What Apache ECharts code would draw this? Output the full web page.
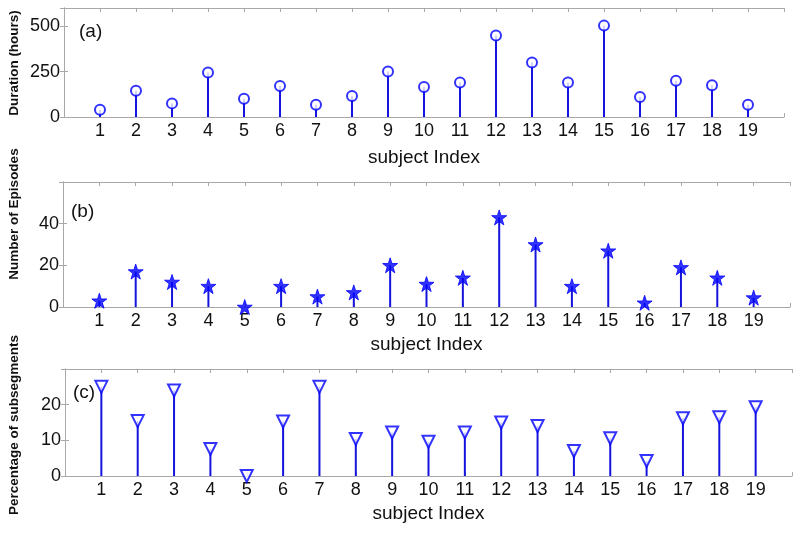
<!DOCTYPE html>
<html>
<head>
<meta charset="utf-8">
<title>subject stems</title>
<script src="https://cdn.jsdelivr.net/npm/echarts@6/dist/echarts.min.js"></script>
<style>
  html, body { margin: 0; padding: 0; background: #fff; }
  #chart { width: 800px; height: 537px; }
</style>
</head>
<body>
<div id="chart"></div>
<script>
// subject numbers on the x axis
const subjects = [1, 2, 3, 4, 5, 6, 7, 8, 9, 10, 11, 12, 13, 14, 15, 16, 17, 18, 19]

// (a) duration in hours
const durationHours = [40, 145, 75, 245, 100, 170, 68, 115, 250, 165, 190, 448, 300, 190, 503, 110, 200, 175, 68]
// (b) number of episodes
const episodes = [3, 17, 12, 10, 0, 10, 5, 7, 20, 11, 14, 43, 30, 10, 27, 2, 19, 14, 4.5]
// (c) percentage of subsegments
const percentSub = [25, 15.4, 24, 7.6, 0, 15.3, 25, 10.4, 12.2, 9.6, 12.2, 15, 14, 7, 10.6, 4.2, 16.2, 16.5, 19.3]

const panelNames = ['Duration (hours)', 'Number of Episodes', 'Percentage of subsegments']
const panelTags = ['(a)', '(b)', '(c)']
const yMax = [600, 60, 30]
const yStep = [250, 20, 10]

const BLUE = '#0000ff'
const STEM = '#1414dc'
const BOX = '#a8a8a8'
const FONT = '"Liberation Sans", Arial, sans-serif'

const starPath = 'path://M50,0 L61.8,35.3 L99,35.3 L69,57.4 L80.4,92.7 L50,70.9 L19.6,92.7 L31,57.4 L1,35.3 L38.2,35.3 Z'

const grids = [
  { left: 64, top: 8, width: 720, height: 109 },
  { left: 63, top: 182, width: 727, height: 125 },
  { left: 65, top: 369, width: 727, height: 107 }
]
const xNameGap = [31, 28, 28]

const chart = echarts.init(document.getElementById('chart'))

const xAxes = []
const yAxes = []
const series = []

grids.forEach((g, i) => {
  const xBase = {
    gridIndex: i,
    type: 'value',
    min: 0,
    max: 20,
    interval: 1,
    splitLine: { show: false },
    axisLine: { show: true, onZero: false, lineStyle: { color: BOX, width: 1 } },
    axisTick: { show: true, inside: true, length: 4, lineStyle: { color: BOX } }
  }
  xAxes.push({
    ...xBase,
    position: 'bottom',
    name: 'subject Index',
    nameLocation: 'middle',
    nameGap: xNameGap[i],
    nameTextStyle: { fontFamily: FONT, fontSize: 19, color: '#111' },
    axisLabel: {
      margin: 5,
      fontFamily: FONT,
      fontSize: 18,
      color: '#111',
      formatter: v => (v >= 1 && v <= 19 ? String(v) : '')
    }
  })
  xAxes.push({ ...xBase, position: 'top', axisLabel: { show: false } })

  const yBase = {
    gridIndex: i,
    type: 'value',
    min: 0,
    max: yMax[i],
    interval: yStep[i],
    splitLine: { show: false },
    axisLine: { show: true, lineStyle: { color: BOX, width: 1 } },
    axisTick: { show: true, inside: true, length: 4, lineStyle: { color: BOX } }
  }
  yAxes.push({
    ...yBase,
    position: 'left',
    axisLabel: {
      margin: 4,
      fontFamily: FONT,
      fontSize: 18,
      color: '#111',
      showMaxLabel: false
    }
  })
  yAxes.push({ ...yBase, position: 'right', axisLabel: { show: false } })
})

const values = [durationHours, episodes, percentSub]
const markers = [
  { symbol: 'emptyCircle', symbolSize: 10, symbolRotate: 0 },
  { symbol: starPath, symbolSize: 15, symbolRotate: 0 },
  { symbol: 'emptyTriangle', symbolSize: 12, symbolRotate: 180 }
]

values.forEach((vals, i) => {
  const pts = subjects.map((s, k) => [s, vals[k]])
  series.push({
    type: 'bar',
    xAxisIndex: i * 2,
    yAxisIndex: i * 2,
    data: pts,
    barWidth: 2,
    itemStyle: { color: STEM },
    silent: true
  })
  series.push({
    type: 'scatter',
    xAxisIndex: i * 2,
    yAxisIndex: i * 2,
    data: pts,
    symbol: markers[i].symbol,
    symbolSize: markers[i].symbolSize,
    symbolRotate: markers[i].symbolRotate,
    itemStyle: {
      color: BLUE,
      borderColor: BLUE,
      borderWidth: i === 1 ? 1 : 2.2
    },
    z: 5
  })
})

const nameCenters = [63, 214, 425]
const tagPos = [[79, 32], [71, 212], [73, 393]]

const graphic = []
panelNames.forEach((n, i) => {
  graphic.push({
    type: 'text',
    x: 14,
    y: nameCenters[i],
    rotation: Math.PI / 2,
    style: {
      text: n,
      fontFamily: FONT,
      fontSize: 13.5,
      fontWeight: 'bold',
      fill: '#111',
      align: 'center',
      verticalAlign: 'middle'
    }
  })
  graphic.push({
    type: 'text',
    x: tagPos[i][0],
    y: tagPos[i][1],
    style: {
      text: panelTags[i],
      fontFamily: FONT,
      fontSize: 19,
      fill: '#111',
      align: 'left',
      verticalAlign: 'middle'
    }
  })
})

chart.setOption({
  animation: false,
  backgroundColor: '#fff',
  grid: grids,
  xAxis: xAxes,
  yAxis: yAxes,
  series: series,
  graphic: graphic
})
</script>
</body>
</html>
